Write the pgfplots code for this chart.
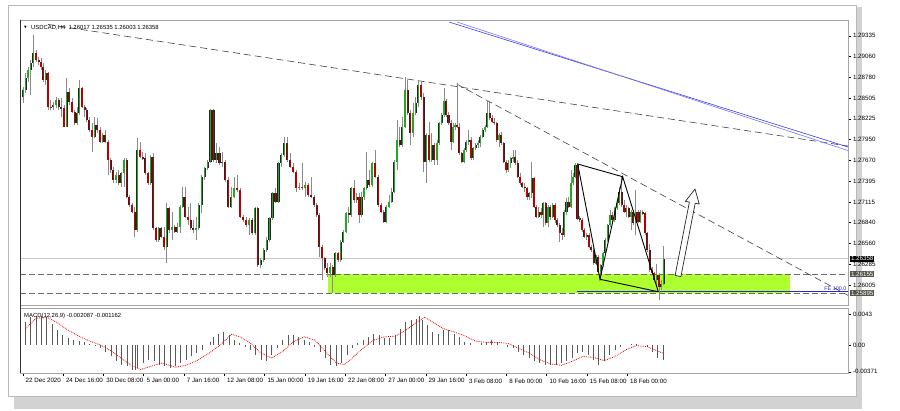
\documentclass[border=0pt]{standalone}
\usepackage{pgfplots}
\pgfplotsset{compat=1.18}
\usepackage{pgfplotstable}
\usepackage{fontspec}
\setmainfont{Liberation Sans}
\newfontfamily\dejavu{DejaVu Sans}
\definecolor{bullc}{HTML}{22A822}
\definecolor{bearc}{HTML}{B80000}
\definecolor{wickc}{HTML}{8A8A8A}
\definecolor{zonec}{HTML}{ADFF2F}
\definecolor{labbox}{HTML}{55554A}
\definecolor{fecol}{HTML}{2A2AC8}
\definecolor{chan}{HTML}{3A3AF0}
\definecolor{trend}{HTML}{404040}

\pgfplotstableread{
x o h l c
23.3 1.28522 1.28655 1.28433 1.28610
25.7 1.28610 1.28833 1.28566 1.28766
28.0 1.28766 1.28922 1.28722 1.28878
30.7 1.28878 1.29011 1.28544 1.28967
33.3 1.28967 1.29345 1.28922 1.29100
36.0 1.29100 1.29145 1.28989 1.29011
38.7 1.29011 1.29056 1.28944 1.28989
41.0 1.28989 1.29033 1.28878 1.28922
43.3 1.28922 1.28967 1.28722 1.28744
45.7 1.28744 1.28878 1.28677 1.28833
48.0 1.28833 1.28855 1.28344 1.28388
50.7 1.28388 1.28477 1.28344 1.28379
53.3 1.28379 1.28455 1.28344 1.28410
56.0 1.28410 1.28522 1.28366 1.28477
58.7 1.28477 1.28499 1.28344 1.28379
61.3 1.28379 1.28499 1.28255 1.28366
64.0 1.28366 1.28410 1.28112 1.28121
66.7 1.28121 1.28766 1.28112 1.28588
69.3 1.28588 1.28633 1.28410 1.28455
72.0 1.28455 1.28499 1.28299 1.28321
74.7 1.28321 1.28344 1.28143 1.28166
77.3 1.28166 1.28388 1.28143 1.28299
79.3 1.28299 1.28744 1.28277 1.28633
82.0 1.28633 1.28655 1.28366 1.28388
84.7 1.28388 1.28410 1.28255 1.28344
86.7 1.28344 1.28366 1.28188 1.28210
89.3 1.28210 1.28255 1.28054 1.28077
92.0 1.28077 1.28166 1.27787 1.27988
94.7 1.27988 1.28255 1.27965 1.28143
97.3 1.28143 1.28232 1.28032 1.28077
100.0 1.28077 1.28121 1.27899 1.27921
102.7 1.27921 1.28032 1.27899 1.28010
105.3 1.28010 1.28077 1.27899 1.27921
108.0 1.27921 1.27943 1.27476 1.27676
110.7 1.27676 1.27698 1.27498 1.27543
113.3 1.27543 1.27587 1.27365 1.27409
116.0 1.27409 1.27520 1.27365 1.27476
118.7 1.27476 1.27543 1.27343 1.27365
121.3 1.27365 1.27520 1.27320 1.27498
124.0 1.27498 1.27698 1.27320 1.27676
126.7 1.27676 1.27698 1.27164 1.27186
129.3 1.27186 1.27209 1.27053 1.27075
132.0 1.27075 1.27098 1.26964 1.26986
134.7 1.26986 1.27053 1.26653 1.26742
137.3 1.26742 1.27965 1.26719 1.27810
140.0 1.27810 1.27921 1.27698 1.27720
142.7 1.27720 1.27787 1.27676 1.27698
145.3 1.27698 1.27765 1.27476 1.27498
148.0 1.27498 1.27520 1.27343 1.27365
150.7 1.27365 1.27743 1.27343 1.27720
153.3 1.27720 1.27765 1.26742 1.26764
156.0 1.26764 1.26786 1.26586 1.26608
158.7 1.26608 1.26786 1.26586 1.26764
161.3 1.26764 1.26786 1.26630 1.26653
164.0 1.26653 1.26786 1.26475 1.26519
166.7 1.26519 1.27098 1.26297 1.27031
169.3 1.27031 1.27053 1.26697 1.26742
172.0 1.26742 1.26986 1.26608 1.26786
174.7 1.26786 1.26808 1.26697 1.26719
177.3 1.26719 1.26831 1.26697 1.26786
180.0 1.26786 1.27075 1.26697 1.27053
182.7 1.27053 1.27320 1.27031 1.27186
185.3 1.27186 1.27320 1.26897 1.26920
188.0 1.26920 1.27053 1.26808 1.26875
190.7 1.26875 1.27098 1.26742 1.26764
193.3 1.26764 1.26875 1.26697 1.26742
196.0 1.26742 1.26920 1.26608 1.26764
198.7 1.26764 1.27098 1.26742 1.27075
201.7 1.27075 1.27476 1.26964 1.27454
204.6 1.27454 1.27587 1.27409 1.27565
207.6 1.27565 1.27676 1.27543 1.27654
210.5 1.27654 1.28352 1.27632 1.28344
213.5 1.28344 1.28352 1.27654 1.27676
216.4 1.27676 1.27899 1.27632 1.27765
219.4 1.27765 1.27854 1.27609 1.27632
222.3 1.27632 1.27787 1.27587 1.27654
225.3 1.27654 1.27676 1.27387 1.27409
228.2 1.27409 1.27454 1.27031 1.27053
231.2 1.27053 1.27320 1.27031 1.27186
234.1 1.27186 1.27454 1.27164 1.27298
237.1 1.27298 1.27476 1.27253 1.27276
240.0 1.27276 1.27298 1.26897 1.26920
243.0 1.26920 1.26942 1.26853 1.26875
245.9 1.26875 1.26920 1.26786 1.26808
248.9 1.26808 1.26897 1.26675 1.26875
251.8 1.26875 1.26897 1.26675 1.26697
254.8 1.26697 1.27053 1.26675 1.27031
257.7 1.27031 1.27053 1.26252 1.26275
260.7 1.26275 1.26363 1.26230 1.26341
263.6 1.26341 1.26497 1.26319 1.26475
266.6 1.26475 1.26653 1.26452 1.26608
269.5 1.26608 1.26920 1.26586 1.26897
272.5 1.26897 1.27253 1.26875 1.27231
275.4 1.27231 1.27298 1.27098 1.27120
278.4 1.27120 1.27654 1.27098 1.27632
281.3 1.27632 1.27765 1.27587 1.27743
284.3 1.27743 1.27988 1.27720 1.27899
287.2 1.27899 1.27988 1.27654 1.27676
290.2 1.27676 1.27765 1.27565 1.27587
293.1 1.27587 1.27632 1.27498 1.27520
296.1 1.27520 1.27543 1.27253 1.27298
299.0 1.27298 1.27365 1.27276 1.27320
302.0 1.27320 1.27632 1.27276 1.27298
304.9 1.27298 1.27387 1.27186 1.27343
307.9 1.27343 1.27365 1.27186 1.27209
310.8 1.27209 1.27454 1.27164 1.27186
313.8 1.27186 1.27209 1.27053 1.27075
316.7 1.27075 1.27098 1.26920 1.26942
319.3 1.26942 1.26964 1.26386 1.26519
322.0 1.26519 1.26541 1.26074 1.26364
324.7 1.26364 1.26386 1.26208 1.26230
327.3 1.26230 1.26297 1.26119 1.26163
330.0 1.26163 1.26297 1.26119 1.26252
332.7 1.26252 1.26275 1.25896 1.26141
335.3 1.26141 1.26452 1.26119 1.26431
338.0 1.26431 1.26452 1.26319 1.26341
340.7 1.26341 1.26608 1.26319 1.26586
343.3 1.26586 1.26742 1.26564 1.26719
346.0 1.26719 1.26986 1.26697 1.26964
348.7 1.26964 1.27053 1.26831 1.26942
351.3 1.26942 1.27320 1.26920 1.27298
354.0 1.27298 1.27409 1.27098 1.27142
356.7 1.27142 1.27231 1.27098 1.27186
359.0 1.27186 1.27231 1.26831 1.26942
361.5 1.26942 1.27253 1.26920 1.27186
364.0 1.27186 1.27320 1.27142 1.27298
366.7 1.27298 1.27787 1.27276 1.27409
369.3 1.27409 1.27543 1.27320 1.27342
372.0 1.27342 1.27654 1.27320 1.27632
375.0 1.27632 1.27810 1.27431 1.27454
378.3 1.27454 1.27476 1.27053 1.27075
381.0 1.27075 1.27098 1.26964 1.26986
383.7 1.26986 1.27009 1.26831 1.26853
386.3 1.26853 1.27075 1.26839 1.27053
389.0 1.27053 1.27209 1.27031 1.27120
391.7 1.27120 1.27298 1.27098 1.27253
394.3 1.27253 1.27676 1.27231 1.27654
397.0 1.27654 1.28210 1.27543 1.27943
399.7 1.27943 1.28121 1.27854 1.27876
402.3 1.27876 1.28255 1.27854 1.28121
405.0 1.28121 1.28789 1.28099 1.28610
407.7 1.28610 1.28744 1.28277 1.28299
410.3 1.28299 1.28344 1.27876 1.28032
413.0 1.28032 1.28432 1.27988 1.28299
415.7 1.28299 1.28522 1.28277 1.28432
418.3 1.28432 1.28744 1.28388 1.28677
421.0 1.28677 1.28722 1.28477 1.28522
423.7 1.28522 1.28566 1.27520 1.27654
426.3 1.27654 1.28032 1.27365 1.28010
429.0 1.28010 1.28188 1.27654 1.27676
431.7 1.27676 1.28032 1.27654 1.27876
434.3 1.27876 1.27899 1.27609 1.27676
436.9 1.27676 1.27943 1.27609 1.27899
439.3 1.27899 1.28188 1.27876 1.28166
441.6 1.28166 1.28299 1.28143 1.28277
443.9 1.28277 1.28633 1.28255 1.28468
446.2 1.28468 1.28486 1.28255 1.28277
448.5 1.28277 1.28321 1.28143 1.28166
450.8 1.28166 1.28210 1.27810 1.27921
453.1 1.27921 1.28166 1.27899 1.28121
455.1 1.28121 1.28166 1.28077 1.28143
457.0 1.28143 1.28700 1.28099 1.28121
459.3 1.28121 1.28166 1.27743 1.27765
461.7 1.27765 1.27787 1.27632 1.27654
464.0 1.27654 1.27832 1.27632 1.27810
466.3 1.27810 1.27943 1.27787 1.27921
468.7 1.27921 1.28077 1.27876 1.27943
471.0 1.27943 1.27988 1.27676 1.27698
473.3 1.27698 1.27854 1.27676 1.27832
475.7 1.27832 1.27899 1.27810 1.27876
478.0 1.27876 1.27943 1.27832 1.27899
480.3 1.27899 1.28010 1.27854 1.27988
482.7 1.27988 1.28099 1.27965 1.28077
485.0 1.28077 1.28143 1.28054 1.28121
487.3 1.28121 1.28477 1.28099 1.28299
489.7 1.28299 1.28455 1.28210 1.28232
492.0 1.28232 1.28277 1.28166 1.28188
494.3 1.28188 1.28232 1.28143 1.28166
496.7 1.28166 1.28188 1.27921 1.27943
499.0 1.27943 1.28032 1.27854 1.28010
501.3 1.28010 1.28054 1.27876 1.27899
503.7 1.27899 1.27921 1.27632 1.27654
506.0 1.27654 1.27676 1.27498 1.27543
508.3 1.27543 1.27676 1.27520 1.27632
510.7 1.27632 1.27721 1.27565 1.27698
513.0 1.27698 1.27810 1.27654 1.27721
515.3 1.27721 1.27810 1.27609 1.27632
517.7 1.27632 1.27676 1.27431 1.27454
520.0 1.27454 1.27498 1.27342 1.27365
522.3 1.27365 1.27387 1.27298 1.27320
524.7 1.27320 1.27365 1.27253 1.27298
527.0 1.27298 1.27320 1.27142 1.27186
529.3 1.27186 1.27253 1.27142 1.27231
531.7 1.27231 1.27654 1.27164 1.27431
534.0 1.27431 1.27454 1.27031 1.27053
536.3 1.27053 1.27075 1.26897 1.26920
538.7 1.26920 1.27053 1.26897 1.26986
541.0 1.26986 1.27031 1.26897 1.26942
543.3 1.26942 1.27120 1.26786 1.27098
545.7 1.27098 1.27120 1.26808 1.26831
548.0 1.26831 1.27075 1.26786 1.27053
550.3 1.27053 1.27075 1.26875 1.26920
552.7 1.26920 1.27098 1.26897 1.27075
555.0 1.27075 1.27098 1.26831 1.26875
557.3 1.26875 1.26897 1.26786 1.26808
559.7 1.26808 1.26831 1.26586 1.26697
562.0 1.26697 1.26763 1.26607 1.26674
564.3 1.26674 1.27007 1.26651 1.26985
566.5 1.26985 1.27163 1.26941 1.27119
568.7 1.27119 1.27185 1.27030 1.27052
570.9 1.27052 1.27542 1.27030 1.27364
573.1 1.27364 1.27497 1.27341 1.27453
575.3 1.27453 1.27639 1.27430 1.27608
577.5 1.27608 1.27631 1.26874 1.26896
579.7 1.26896 1.26927 1.26851 1.26874
582.0 1.26874 1.26896 1.26718 1.26740
584.3 1.26740 1.26763 1.26629 1.26651
586.7 1.26651 1.26696 1.26607 1.26674
589.0 1.26674 1.26696 1.26496 1.26518
591.3 1.26518 1.26540 1.26451 1.26473
593.7 1.26473 1.26496 1.26273 1.26295
596.0 1.26295 1.26407 1.26273 1.26384
598.3 1.26384 1.26407 1.26162 1.26184
600.7 1.26184 1.26295 1.26082 1.26273
603.0 1.26273 1.26451 1.26251 1.26429
605.3 1.26429 1.26629 1.26407 1.26607
607.7 1.26607 1.26829 1.26585 1.26807
610.0 1.26807 1.27007 1.26785 1.26941
612.3 1.26941 1.26985 1.26851 1.26874
614.7 1.26874 1.27052 1.26851 1.27030
617.0 1.27030 1.27141 1.27007 1.27096
619.3 1.27096 1.27319 1.27074 1.27252
621.7 1.27252 1.27444 1.27052 1.27074
624.0 1.27074 1.27141 1.26963 1.26985
626.3 1.26985 1.27074 1.26918 1.27030
628.7 1.27030 1.27052 1.26896 1.26918
631.0 1.26918 1.27007 1.26740 1.26985
633.3 1.26985 1.27007 1.26807 1.26829
635.7 1.26829 1.27274 1.26674 1.26985
638.0 1.26985 1.27007 1.26829 1.26851
640.3 1.26851 1.27007 1.26829 1.26985
642.7 1.26985 1.27007 1.26941 1.26963
645.0 1.26963 1.26985 1.26674 1.26696
647.3 1.26696 1.26718 1.26451 1.26473
649.7 1.26473 1.26562 1.26184 1.26206
652.0 1.26206 1.26251 1.26140 1.26162
654.3 1.26162 1.26184 1.26051 1.26073
656.7 1.26073 1.26295 1.25984 1.26140
659.0 1.26140 1.26162 1.25806 1.25984
661.3 1.25984 1.26073 1.25940 1.26017
663.7 1.26017 1.26535 1.26003 1.26358
}\candles

\pgfplotstableread{
x v
25.4 0.00317
30.7 0.00385
36.1 0.00408
41.4 0.00408
46.8 0.00385
52.2 0.00294
57.5 0.00204
62.9 0.00136
68.2 0.00091
73.6 0.00068
79.0 0.00054
84.3 0.00036
89.7 0.00014
95.0 -0.00014
100.4 -0.00045
105.8 -0.00091
111.1 -0.00159
116.5 -0.00227
121.8 -0.00272
127.2 -0.00294
132.6 -0.00340
135.2 -0.00353
137.9 -0.00317
143.3 -0.00249
148.6 -0.00204
154.0 -0.00227
159.4 -0.00272
164.7 -0.00294
170.1 -0.00317
175.4 -0.00294
180.8 -0.00249
186.2 -0.00204
191.5 -0.00159
196.9 -0.00113
202.2 -0.00068
207.6 0.00000
210.3 0.00045
213.0 0.00113
218.3 0.00159
223.7 0.00181
229.0 0.00136
234.4 0.00068
239.8 0.00023
245.1 -0.00023
250.5 -0.00068
255.8 -0.00136
261.2 -0.00204
266.6 -0.00227
271.9 -0.00136
277.3 -0.00045
282.6 0.00068
288.0 0.00136
293.4 0.00145
298.7 0.00113
304.1 0.00068
309.4 0.00045
314.8 -0.00023
320.2 -0.00091
325.5 -0.00181
330.9 -0.00272
336.2 -0.00294
341.6 -0.00249
347.0 -0.00136
352.3 -0.00045
357.7 0.00023
363.0 0.00068
368.4 0.00113
373.8 0.00159
379.1 0.00136
384.5 0.00091
389.8 0.00091
395.2 0.00136
400.6 0.00227
405.9 0.00317
411.3 0.00340
416.6 0.00362
419.3 0.00408
422.0 0.00340
427.4 0.00272
432.7 0.00181
438.1 0.00159
443.4 0.00204
448.8 0.00204
454.2 0.00159
459.5 0.00113
464.9 0.00045
470.2 0.00023
475.6 0.00000
481.0 0.00023
486.3 0.00045
491.7 0.00068
497.0 0.00045
502.4 0.00000
507.8 -0.00023
513.1 -0.00045
518.5 -0.00091
523.8 -0.00136
529.2 -0.00181
534.6 -0.00227
539.9 -0.00249
545.3 -0.00272
550.6 -0.00272
556.0 -0.00272
561.4 -0.00249
566.7 -0.00227
572.1 -0.00181
577.4 -0.00113
582.8 -0.00091
588.2 -0.00136
593.5 -0.00204
598.9 -0.00272
604.2 -0.00227
609.6 -0.00136
615.0 -0.00068
620.3 -0.00023
625.7 0.00000
631.0 0.00014
636.4 0.00009
641.8 0.00000
647.1 -0.00023
652.5 -0.00091
657.8 -0.00181
663.2 -0.00209
}\macdhist

\pgfplotstableread{
x s
25.4 0.00227
36.1 0.00371
46.8 0.00385
57.5 0.00308
68.2 0.00204
79.0 0.00122
89.7 0.00054
100.4 0.00000
111.1 -0.00082
121.8 -0.00190
132.6 -0.00294
140.6 -0.00340
151.3 -0.00294
162.0 -0.00249
175.4 -0.00308
186.2 -0.00281
196.9 -0.00217
207.6 -0.00127
218.3 -0.00023
231.7 0.00149
239.8 0.00113
250.5 0.00023
261.2 -0.00113
271.9 -0.00181
282.6 -0.00091
293.4 0.00045
304.1 0.00113
314.8 0.00068
325.5 -0.00091
336.2 -0.00249
344.3 -0.00272
352.3 -0.00181
363.0 -0.00045
373.8 0.00068
384.5 0.00113
395.2 0.00122
405.9 0.00204
416.6 0.00317
424.7 0.00385
432.7 0.00317
443.4 0.00227
454.2 0.00181
464.9 0.00127
475.6 0.00054
486.3 0.00036
497.0 0.00036
507.8 0.00023
518.5 -0.00045
529.2 -0.00113
539.9 -0.00204
550.6 -0.00263
561.4 -0.00281
572.1 -0.00227
582.8 -0.00159
593.5 -0.00172
604.2 -0.00217
615.0 -0.00159
625.7 -0.00068
636.4 -0.00009
647.1 -0.00023
655.2 -0.00068
663.2 -0.00116
}\macdsig

\begin{document}
\begin{tikzpicture}[x=1pt,y=1pt]
\path[use as bounding box] (0,0) rectangle (900,411);
\coordinate (mainsw) at (20,106);
\coordinate (macdsw) at (20,38);
% window frame and shadow
\fill[gray!35] (14,2) rectangle (862,15);
\fill[gray!35] (856,2) rectangle (862,404);
\draw[gray!55, line width=0.8pt] (8,15) rectangle (856,406);

% ---------------- main price panel ----------------
\begin{axis}[
  at={(mainsw)}, anchor=south west, scale only axis,
  width=828pt, height=285pt,
  xmin=20, xmax=848, ymin=1.25740, ymax=1.29545,
  axis line style={draw=gray!70, line width=0.6pt},
  xtick=\empty,
  scaled y ticks=false,
  ytick={1.29335,1.29060,1.28780,1.28505,1.28225,1.27950,1.27670,1.27395,1.27115,1.26840,1.26560,1.26285,1.26005,1.25730},
  yticklabels={1.29335,1.29060,1.28780,1.28505,1.28225,1.27950,1.27670,1.27395,1.27115,1.26840,1.26560,1.26285,1.26005,1.25730},
  ytick pos=right, yticklabel pos=right,
  tick align=outside, major tick length=3pt,
  tick style={draw=black, line width=0.4pt},
  yticklabel style={font=\fontsize{6.2}{7}\selectfont, xshift=-1.5pt},
]
% support zone
\fill[zonec] (axis cs:328,1.25895) rectangle (axis cs:790,1.26155);
% horizontal levels
\draw[gray!45, line width=0.9pt] (axis cs:20,1.26358) -- (axis cs:848,1.26358);
\draw[gray!85!black, line width=0.6pt, dash pattern=on 6pt off 3pt] (axis cs:20,1.26155) -- (axis cs:848,1.26155);
\draw[gray!85!black, line width=0.6pt, dash pattern=on 6pt off 3pt] (axis cs:20,1.25895) -- (axis cs:848,1.25895);
% trend lines
\draw[trend, line width=0.6pt, dash pattern=on 7pt off 4pt] (axis cs:48,1.29486) -- (axis cs:848,1.27862);
\draw[trend, line width=0.6pt, dash pattern=on 7pt off 4pt] (axis cs:456.7,1.28690) -- (axis cs:848,1.25869);
\draw[chan, line width=0.6pt] (axis cs:449,1.29518) -- (axis cs:848,1.27849);
\draw[chan!70, line width=0.6pt] (axis cs:457,1.29518) -- (axis cs:848,1.27802);
% FE line
\draw[fecol, line width=0.6pt] (axis cs:577,1.25917) -- (axis cs:848,1.25917);
% wicks
\addplot[draw=none, mark=none, forget plot,
  error bars/.cd, y dir=both, y explicit, error mark=none,
  error bar style={draw=wickc, solid, line width=0.6pt}]
  table[x=x, y expr={(\thisrow{h}+\thisrow{l})/2}, y error expr={(\thisrow{h}-\thisrow{l})/2}] {\candles};
% bull bodies (dark outline + fill)
\addplot[draw=none, mark=none, forget plot,
  error bars/.cd, y dir=both, y explicit, error mark=none,
  error bar style={draw=black!85, solid, line width=2.2pt}]
  table[x=x, y expr={\thisrow{c}>=\thisrow{o} ? (\thisrow{o}+\thisrow{c})/2 : nan}, y error expr={abs(\thisrow{c}-\thisrow{o})/2}] {\candles};
\addplot[draw=none, mark=none, forget plot,
  error bars/.cd, y dir=both, y explicit, error mark=none,
  error bar style={draw=bullc, solid, line width=1.3pt}]
  table[x=x, y expr={\thisrow{c}>=\thisrow{o} ? (\thisrow{o}+\thisrow{c})/2 : nan}, y error expr={abs(\thisrow{c}-\thisrow{o})/2}] {\candles};
% bear bodies (dark outline + fill)
\addplot[draw=none, mark=none, forget plot,
  error bars/.cd, y dir=both, y explicit, error mark=none,
  error bar style={draw=black!85, solid, line width=2.2pt}]
  table[x=x, y expr={\thisrow{c}<\thisrow{o} ? (\thisrow{o}+\thisrow{c})/2 : nan}, y error expr={abs(\thisrow{c}-\thisrow{o})/2}] {\candles};
\addplot[draw=none, mark=none, forget plot,
  error bars/.cd, y dir=both, y explicit, error mark=none,
  error bar style={draw=bearc, solid, line width=1.3pt}]
  table[x=x, y expr={\thisrow{c}<\thisrow{o} ? (\thisrow{o}+\thisrow{c})/2 : nan}, y error expr={abs(\thisrow{c}-\thisrow{o})/2}] {\candles};
% harmonic pattern
\addplot[black, line width=0.9pt, mark=none] coordinates {(577.7,1.27622) (600.0,1.26083) (622.7,1.27452) (658.3,1.25917)};
\addplot[black, line width=0.9pt, mark=none] coordinates {(577.7,1.27622) (622.7,1.27452)};
\addplot[black, line width=0.9pt, mark=none] coordinates {(600.0,1.26083) (658.3,1.25917)};
\end{axis}

% ---------------- MACD panel ----------------
\begin{axis}[
  at={(macdsw)}, anchor=south west, scale only axis,
  width=828pt, height=65pt,
  xmin=20, xmax=848, ymin=-0.003884, ymax=0.005132,
  axis line style={draw=gray!70, line width=0.6pt},
  scaled y ticks=false,
  xtick={22.7,63.0,103.3,143.6,183.9,224.2,264.5,304.8,345.1,385.4,425.7,466.0,506.3,546.6,586.9,627.2},
  xticklabels={22 Dec 2020,24 Dec 16:00,30 Dec 08:00,5 Jan 00:00,7 Jan 16:00,12 Jan 08:00,15 Jan 00:00,19 Jan 16:00,22 Jan 08:00,27 Jan 00:00,29 Jan 16:00,3 Feb 08:00,8 Feb 00:00,10 Feb 16:00,15 Feb 08:00,18 Feb 00:00},
  xtick pos=bottom,
  ytick={0.0043,0,-0.00371},
  yticklabels={0.0043,0.00,-0.00371},
  ytick pos=right, yticklabel pos=right,
  tick align=outside, major tick length=3pt,
  tick style={draw=black, line width=0.4pt},
  yticklabel style={font=\fontsize{6.2}{7}\selectfont, xshift=-1.5pt},
  xticklabel style={font=\fontsize{6.2}{7}\selectfont, anchor=north west, xshift=-0.5pt, yshift=1pt},
]
\addplot[ycomb, draw=black!65, line width=0.9pt, mark=none] table[x=x, y=v] {\macdhist};
\addplot[red!90!black, densely dotted, line width=0.8pt, mark=none] table[x=x, y=s] {\macdsig};
\end{axis}

% left dark border
\draw[black!80, line width=0.7pt] (20,38) -- (20,391);

% ---------------- annotations (pixel frame) ----------------
\begin{scope}[shift={(0,411)}, x=1pt, y=-1pt]
  \node[anchor=west, inner sep=0pt, font=\fontsize{3.5}{4}\dejavu] at (24,27.5) {▼};
  \node[anchor=west, inner sep=0pt, font=\fontsize{5.9}{6}\selectfont] at (31,27.5) {USDCAD,H4\ \ 1.26017 1.26535 1.26003 1.26358};
  \node[anchor=west, inner sep=0pt, font=\fontsize{5.9}{6}\selectfont] at (24,316) {MACD(12,26,9) -0.002087 -0.001162};
  \node[anchor=west, fill=black, text=white, inner sep=0.8pt, font=\fontsize{6.2}{7}\selectfont] at (850,258.7) {1.26358};
  \node[anchor=west, fill=labbox, text=white, inner sep=0.8pt, font=\fontsize{6.2}{7}\selectfont] at (850,273.9) {1.26155};
  \node[anchor=west, fill=labbox, text=white, inner sep=0.8pt, font=\fontsize{6.2}{7}\selectfont] at (850,293.4) {1.25895};
  \node[anchor=south east, inner sep=0.5pt, text=fecol, font=\fontsize{5.4}{6}\selectfont] at (847,291.5) {FE 100.0};
  \filldraw[fill=white, draw=black!85, line width=0.7pt, line join=round]
    (675.1,275.4) -- (689.4,202.1) -- (685.4,201.4) -- (695,189) -- (699.2,204.0) -- (695.2,203.3) -- (680.9,276.6) -- cycle;
\end{scope}
\end{tikzpicture}
\end{document}
